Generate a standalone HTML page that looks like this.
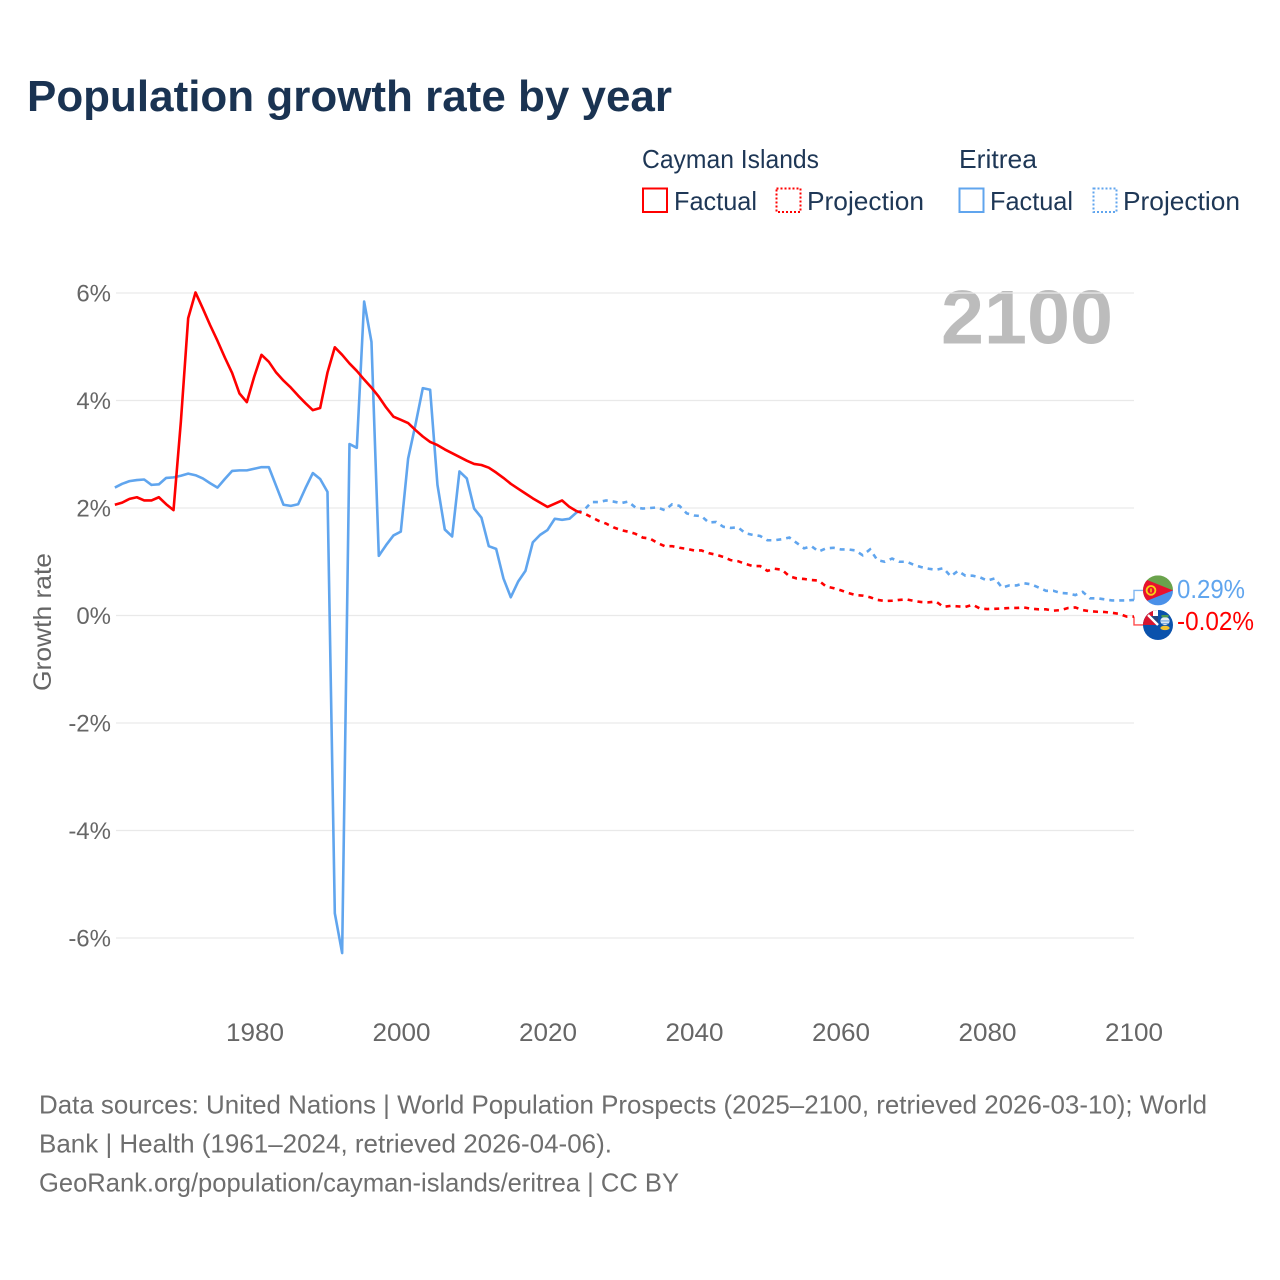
<!DOCTYPE html>
<html lang="en">
<head>
<meta charset="utf-8">
<title>Population growth rate by year</title>
<style>
  html, body { margin: 0; padding: 0; background: #fff; }
  svg { display: block; font-family: "Liberation Sans", sans-serif; }
</style>
</head>
<body>
<svg id="chart" width="1280" height="1280" viewBox="0 0 1280 1280" xmlns="http://www.w3.org/2000/svg">
  <rect x="0" y="0" width="1280" height="1280" fill="#ffffff"/>
  <text x="27" y="111" font-size="44" font-weight="700" fill="#1a3352" textLength="645" lengthAdjust="spacingAndGlyphs">Population growth rate by year</text>

  <g font-size="26" fill="#1e3756">
    <text x="642" y="168" textLength="177" lengthAdjust="spacingAndGlyphs">Cayman Islands</text>
    <text x="959" y="168" textLength="78" lengthAdjust="spacingAndGlyphs">Eritrea</text>
    <rect x="643" y="188.5" width="24" height="23.5" fill="none" stroke="#ff0000" stroke-width="2"/>
    <text x="674" y="210" textLength="83" lengthAdjust="spacingAndGlyphs">Factual</text>
    <rect x="776.5" y="188.5" width="24" height="23.5" fill="none" stroke="#ff0000" stroke-width="2" stroke-dasharray="2 2"/>
    <text x="807" y="210" textLength="117" lengthAdjust="spacingAndGlyphs">Projection</text>
    <rect x="959.5" y="188.5" width="24" height="23.5" fill="none" stroke="#60a5ee" stroke-width="2"/>
    <text x="990" y="210" textLength="83" lengthAdjust="spacingAndGlyphs">Factual</text>
    <rect x="1093.5" y="188.5" width="23" height="23.5" fill="none" stroke="#60a5ee" stroke-width="2" stroke-dasharray="2 2"/>
    <text x="1123" y="210" textLength="117" lengthAdjust="spacingAndGlyphs">Projection</text>
  </g>

  <text x="941" y="343.5" font-size="76" font-weight="700" fill="#bcbcbc" textLength="172" lengthAdjust="spacingAndGlyphs">2100</text>

  <g id="grid"></g>
  <g id="yticks" font-size="24" fill="#666666" text-anchor="end"></g>
  <g id="xticks" font-size="25" fill="#666666" text-anchor="middle"></g>
  <text transform="translate(51 622) rotate(-90)" font-size="25" fill="#666666" text-anchor="middle" textLength="138" lengthAdjust="spacingAndGlyphs">Growth rate</text>

  <g id="series"></g>

  <defs>
    <clipPath id="clip-er"><circle cx="0" cy="0" r="15"/></clipPath>
    <clipPath id="clip-ky"><circle cx="0" cy="0" r="15"/></clipPath>
  </defs>

  <g id="flag-eritrea">
    <g clip-path="url(#clip-er)">
      <rect x="-15" y="-15" width="30" height="15" fill="#6aa34c"/>
      <rect x="-15" y="0" width="30" height="15" fill="#4a90e8"/>
      <polygon points="-15,-12 15,0 -15,12" fill="#e8112d"/>
      <circle cx="-7" cy="0" r="4.4" fill="none" stroke="#f7d117" stroke-width="1.8"/>
      <rect x="-7.7" y="-2" width="1.4" height="4" fill="#f7d117"/>
    </g>
  </g>
  <g id="flag-cayman">
    <g clip-path="url(#clip-ky)">
      <rect x="-15" y="-15" width="30" height="30" fill="#0b52ac"/>
      <rect x="-15" y="-15" width="15" height="15" fill="#d8152f"/>
      <polygon points="-9,-9 0,-9 0,0" fill="#24457f"/>
      <path d="M-10 -10 L0 0" stroke="#ffffff" stroke-width="2.4"/>
      <path d="M-5 -15 H0 V-9 H-5 Z" fill="#ffffff"/>
      <path d="M0 -15 H15 V-9 H0 Z" fill="#0b52ac"/>
      <ellipse cx="7" cy="-4" rx="4.6" ry="4" fill="#e8eef5"/>
      <path d="M2.8 -4 H11.2 M3.2 -1.6 H10.8" stroke="#6aa0dc" stroke-width="1.1"/>
      <rect x="3.5" y="-10" width="7" height="2.4" fill="#4e9a53"/>
      <ellipse cx="7" cy="3" rx="4.6" ry="2.2" fill="#f2c230"/>
    </g>
  </g>
  <text id="label-eritrea" x="1177" font-size="25.5" fill="#60a5ee" textLength="68" lengthAdjust="spacingAndGlyphs"></text>
  <text id="label-cayman" x="1177" font-size="25.5" fill="#ff0000" textLength="77" lengthAdjust="spacingAndGlyphs"></text>

  <g font-size="26" fill="#6e6e6e">
    <text x="39" y="1113.5" textLength="1168" lengthAdjust="spacingAndGlyphs">Data sources: United Nations | World Population Prospects (2025–2100, retrieved 2026-03-10); World</text>
    <text x="39" y="1152.5" textLength="573" lengthAdjust="spacingAndGlyphs">Bank | Health (1961–2024, retrieved 2026-04-06).</text>
    <text x="39" y="1191.5" textLength="640" lengthAdjust="spacingAndGlyphs">GeoRank.org/population/cayman-islands/eritrea | CC BY</text>
  </g>
</svg>
<script>
const firstFactualYear = 1961;
const firstProjectionYear = 2024;
const xTickYears = [1980, 2000, 2020, 2040, 2060, 2080, 2100];
const yTickValues = [6, 4, 2, 0, -2, -4, -6];

const caymanFactual = [
  2.06, 2.10, 2.17, 2.20, 2.14, 2.14, 2.20, 2.07, 1.96,
  3.60, 5.53, 6.01, 5.71, 5.40, 5.11, 4.80, 4.51, 4.13, 3.97,
  4.44, 4.85, 4.72, 4.52, 4.37, 4.24, 4.09, 3.95, 3.82, 3.86,
  4.52, 4.99, 4.85, 4.69, 4.55, 4.39, 4.24, 4.07, 3.87, 3.70,
  3.64, 3.58, 3.45, 3.33, 3.23, 3.17, 3.09, 3.02, 2.95, 2.88,
  2.82, 2.80, 2.75, 2.66, 2.56, 2.45, 2.36, 2.27, 2.18, 2.10,
  2.02, 2.08, 2.14, 2.02, 1.94
];
const eritreaFactual = [
  2.38, 2.45, 2.50, 2.52, 2.53, 2.43, 2.44, 2.56, 2.57,
  2.60, 2.64, 2.61, 2.55, 2.46, 2.38, 2.54, 2.69, 2.70, 2.70,
  2.73, 2.76, 2.76, 2.41, 2.06, 2.04, 2.07, 2.37, 2.65, 2.54,
  2.30, -5.54, -6.28, 3.19, 3.12, 5.84, 5.09, 1.11, 1.31, 1.49,
  1.56, 2.92, 3.55, 4.23, 4.20, 2.43, 1.60, 1.47, 2.68, 2.55,
  1.99, 1.82, 1.29, 1.24, 0.69, 0.34, 0.63, 0.83, 1.36, 1.50,
  1.59, 1.80, 1.78, 1.80, 1.92
];
const caymanProjection = [
  1.94,
  1.90, 1.83, 1.76, 1.71, 1.64,
  1.59, 1.56, 1.52, 1.45, 1.43, 1.35, 1.29, 1.29, 1.26, 1.24,
  1.21, 1.21, 1.16, 1.13, 1.09, 1.03, 1.01, 0.96, 0.92, 0.92,
  0.83, 0.87, 0.85, 0.73, 0.69, 0.68, 0.66, 0.65, 0.54, 0.51,
  0.47, 0.42, 0.38, 0.37, 0.34, 0.29, 0.27, 0.275, 0.29, 0.30,
  0.27, 0.25, 0.245, 0.26, 0.16, 0.18, 0.17, 0.16, 0.20, 0.13,
  0.12, 0.125, 0.13, 0.14, 0.14, 0.15, 0.125, 0.115, 0.115, 0.09,
  0.10, 0.14, 0.15, 0.10, 0.08, 0.07, 0.065, 0.05, 0.03, -0.02,
  -0.02
];
const eritreaProjection = [
  1.92,
  1.96, 2.11, 2.11, 2.14, 2.12,
  2.09, 2.12, 2.01, 1.99, 2.00, 2.01, 1.96, 2.07, 2.04, 1.90,
  1.86, 1.85, 1.73, 1.74, 1.65, 1.63, 1.64, 1.53, 1.50, 1.48,
  1.40, 1.40, 1.42, 1.45, 1.35, 1.25, 1.29, 1.19, 1.25, 1.26,
  1.23, 1.23, 1.21, 1.12, 1.23, 1.03, 1.00, 1.06, 1.00, 1.00,
  0.94, 0.90, 0.87, 0.85, 0.88, 0.73, 0.83, 0.74, 0.74, 0.71,
  0.65, 0.69, 0.52, 0.56, 0.56, 0.60, 0.58, 0.52, 0.46, 0.46,
  0.42, 0.41, 0.38, 0.44, 0.32, 0.32, 0.30, 0.28, 0.28, 0.28,
  0.29
];

const NS = 'http://www.w3.org/2000/svg';
function xScale(year) { return 1134 + (year - 2100) * 7.332; }
function xTickPos(year) { return 255 + (year - 1980) * 7.325; }
function yScale(value) { return 615.5 - value * 53.75; }
function make(tag, parentId, attrs) {
  const el = document.createElementNS(NS, tag);
  for (const k in attrs) el.setAttribute(k, attrs[k]);
  document.getElementById(parentId).appendChild(el);
  return el;
}
function linePath(values, startYear) {
  return values.map(function (v, i) {
    return (i ? 'L' : 'M') + xScale(startYear + i).toFixed(2) + ' ' + yScale(v).toFixed(2);
  }).join(' ');
}

yTickValues.forEach(function (v) {
  const line = make('line', 'grid', { x1: 116, x2: 1134, y1: yScale(v), y2: yScale(v), stroke: '#e9e9e9', 'stroke-width': 1.3 });
  
  
  const t = make('text', 'yticks', { x: 111, y: yScale(v) + 8.5 });
  
  
  t.textContent = v + '%';
});
xTickYears.forEach(function (yr) {
  const t = make('text', 'xticks', { x: xTickPos(yr), y: 1041, textLength: 58, lengthAdjust: 'spacingAndGlyphs' });
  
  
  t.textContent = yr;
});

const RED = '#ff0000';
const BLUE = '#60a5ee';
const LINE_WIDTH = 2.6;

const p3 = make('path', 'series', { d: linePath(eritreaFactual, firstFactualYear), fill: 'none', stroke: BLUE, 'stroke-width': LINE_WIDTH, 'stroke-linejoin': 'round' });


const p4 = make('path', 'series', { d: linePath(eritreaProjection, firstProjectionYear), fill: 'none', stroke: BLUE, 'stroke-width': LINE_WIDTH, 'stroke-dasharray': '5 5' });


const p1 = make('path', 'series', { d: linePath(caymanFactual, firstFactualYear), fill: 'none', stroke: RED, 'stroke-width': LINE_WIDTH, 'stroke-linejoin': 'round' });


const p2 = make('path', 'series', { d: linePath(caymanProjection, firstProjectionYear), fill: 'none', stroke: RED, 'stroke-width': LINE_WIDTH, 'stroke-dasharray': '5 5' });



const lastYear = firstProjectionYear + eritreaProjection.length - 1;
const eritreaEnd = eritreaProjection[eritreaProjection.length - 1];
const caymanEnd = caymanProjection[caymanProjection.length - 1];
const eritreaLabelY = yScale(eritreaEnd) - 9.5;
const caymanLabelY = yScale(caymanEnd) + 8.4;

const l1 = make('path', 'series', { d: 'M' + xScale(lastYear) + ' ' + yScale(eritreaEnd) + ' V' + eritreaLabelY + ' H1145', fill: 'none', stroke: BLUE, 'stroke-width': 1.4, opacity: 0.8 });


const l2 = make('path', 'series', { d: 'M' + xScale(lastYear) + ' ' + yScale(caymanEnd) + ' V' + caymanLabelY + ' H1145', fill: 'none', stroke: RED, 'stroke-width': 1.4, opacity: 0.7 });



document.getElementById('flag-eritrea').setAttribute('transform', 'translate(1158 ' + eritreaLabelY + ')');
document.getElementById('flag-cayman').setAttribute('transform', 'translate(1158 ' + caymanLabelY + ')');
const labelE = document.getElementById('label-eritrea');
labelE.setAttribute('y', eritreaLabelY + 7.5);
labelE.textContent = eritreaEnd.toFixed(2) + '%';
const labelC = document.getElementById('label-cayman');
labelC.setAttribute('y', caymanLabelY + 5);
labelC.textContent = caymanEnd.toFixed(2) + '%';
</script>
</body>
</html>
